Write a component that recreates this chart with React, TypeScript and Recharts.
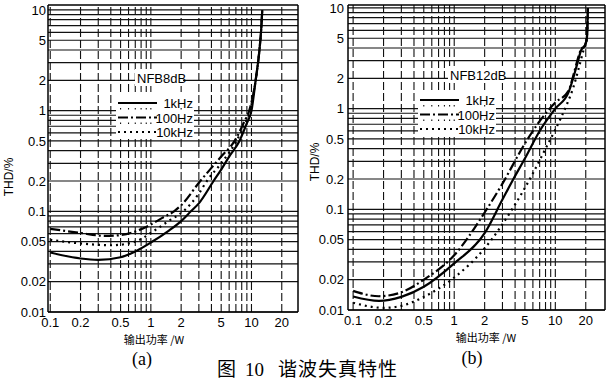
import React from 'react'
import { LineChart, Line, XAxis, YAxis, ReferenceLine } from 'recharts'

// tick labels
const powerTicks = [0.1, 0.2, 0.5, 1, 2, 5, 10, 20]
const thdTicks = [0.01, 0.02, 0.05, 0.1, 0.2, 0.5, 1, 2, 5, 10]

// (a) NFB 8dB
const a1kPower = [0.1, 0.2, 0.3, 0.5, 0.7, 1, 1.5, 2, 2.5, 3, 4.2, 5, 6, 7.6, 9, 10, 11, 12, 12.5, 12.8]
const a1kThd = [0.039, 0.034, 0.033, 0.035, 0.04, 0.049, 0.064, 0.08, 0.1, 0.12, 0.2, 0.26, 0.35, 0.5, 0.75, 1.0, 2, 4, 6.5, 10]
const a100Power = [0.1, 0.2, 0.35, 0.5, 0.7, 1, 1.3, 1.7, 2, 3.1, 4, 5, 6.8, 8.5, 9.5, 11, 12, 12.5, 12.8]
const a100Thd = [0.067, 0.061, 0.057, 0.058, 0.063, 0.074, 0.086, 0.1, 0.115, 0.2, 0.27, 0.35, 0.5, 0.78, 1.0, 2, 4, 6.5, 10]
const a10kPower = [0.1, 0.2, 0.4, 0.6, 0.8, 1, 1.5, 2.1, 3, 3.6, 5, 7.1, 8.5, 9.7, 11, 12, 12.5, 12.8]
const a10kThd = [0.052, 0.048, 0.046, 0.048, 0.053, 0.061, 0.08, 0.1, 0.15, 0.2, 0.3, 0.5, 0.72, 1.0, 2, 4, 6.5, 10]

// (b) NFB 12dB
const b1kPower = [0.1, 0.18, 0.3, 0.5, 1, 2, 3, 3.85, 5, 7, 10, 13.5, 15, 16.5, 18, 19.5, 20.5, 21]
const b1kThd = [0.0136, 0.0123, 0.0135, 0.017, 0.029, 0.058, 0.125, 0.2, 0.32, 0.6, 1.0, 1.45, 2, 2.8, 3.8, 4.2, 5, 10]
const b100Power = [0.1, 0.18, 0.3, 0.5, 1, 2, 3, 5, 7, 10, 13.5, 15, 16.5, 18, 19.5, 20.5, 21]
const b100Thd = [0.0155, 0.0137, 0.015, 0.02, 0.035, 0.093, 0.18, 0.45, 0.75, 1.15, 1.5, 2.1, 3, 3.9, 4.2, 5, 10]
const b10kPower = [0.1, 0.2, 0.3, 0.5, 1, 2, 3.85, 5.9, 8, 10, 13, 15, 17, 19, 20.5, 21]
const b10kThd = [0.0118, 0.0105, 0.011, 0.0135, 0.021, 0.041, 0.105, 0.22, 0.4, 0.62, 1.1, 1.6, 2.5, 3.8, 4.8, 10]

const zip = (xs: number[], ys: number[]) => xs.map((x, i) => ({ x, y: ys[i] }))

const gridX: number[] = []
const gridY: number[] = []
for (const d of [0.01, 0.1, 1]) for (let k = 1; k <= 9; k++) gridY.push(+(d * k).toPrecision(2))
gridY.push(10)
for (const d of [0.1, 1]) for (let k = 1; k <= 9; k++) gridX.push(+(d * k).toPrecision(2))
gridX.push(10, 20)

const sans = '"Liberation Sans", Arial, sans-serif'
const cjk = '"Noto Sans CJK SC", sans-serif'
const serif = '"Liberation Serif", "Noto Sans CJK SC", serif'

const solid = { stroke: '#000', strokeWidth: 2.2 }
const dashDot = { stroke: '#000', strokeWidth: 2.2, strokeDasharray: '10 3 2 3' }
const dotted = { stroke: '#000', strokeWidth: 2.2, strokeDasharray: '2 4' }

function Panel({ xDomain, yDomain, width, right, xAxisHeight, yTickMargin, curves }: any) {
  return (
    <LineChart width={width} height={330} margin={{ top: 5, right, bottom: 0, left: 0 }}>
      <XAxis type="number" dataKey="x" scale="log" domain={xDomain} allowDataOverflow
        ticks={powerTicks} interval={0} tickLine={false} tickSize={0} tickMargin={6}
        height={xAxisHeight} axisLine={{ stroke: '#000', strokeWidth: 1.5 }}
        tick={{ fontSize: 13, fill: '#000', fontFamily: sans }} />
      <YAxis type="number" scale="log" domain={yDomain} allowDataOverflow
        ticks={thdTicks} interval={0} tickLine={false} tickSize={0} tickMargin={yTickMargin}
        width={48} axisLine={{ stroke: '#000', strokeWidth: 1.5 }}
        tick={{ fontSize: 13, fill: '#000', fontFamily: sans }} />
      {gridY.map(v => (
        <ReferenceLine key={'h' + v} y={v} stroke="#111" strokeWidth={1.2} />
      ))}
      {gridX.map(v => (
        <ReferenceLine key={'v' + v} x={v} stroke="#111" strokeWidth={1.1} strokeDasharray="8 3" />
      ))}
      <ReferenceLine y={yDomain[1]} stroke="#000" strokeWidth={1.5} />
      <ReferenceLine x={xDomain[1]} stroke="#000" strokeWidth={1.5} />
      {curves.map((c: any) => (
        <Line key={c.name} data={c.data} dataKey="y" name={c.name} type="monotone" dot={false}
          isAnimationActive={false} {...c.style} />
      ))}
    </LineChart>
  )
}

function LegendBox({ x, y, title, titleX }: any) {
  const rows = [
    { label: '1kHz', style: solid },
    { label: '100Hz', style: dashDot },
    { label: '10kHz', style: dotted },
  ]
  return (
    <g>
      <rect x={titleX - 2} y={y - 9} width={title.length * 8} height={17} fill="#fff" />
      <text x={titleX} y={y + 5} fontSize={13} fontFamily={sans} fill="#000">{title}</text>
      {rows.map((r, i) => (
        <g key={r.label}>
          <rect x={x - 2} y={y + 17 + i * 14.5} width={78} height={13} fill="#fff" />
          <line x1={x} x2={x + 39} y1={y + 25 + i * 14.5} y2={y + 25 + i * 14.5} {...r.style} />
          <text x={x + 75} y={y + 30 + i * 14.5} fontSize={13} fontFamily={sans} fill="#000" textAnchor="end">{r.label}</text>
        </g>
      ))}
    </g>
  )
}

export default function App() {
  const curvesA = [
    { name: '1kHz', data: zip(a1kPower, a1kThd), style: solid },
    { name: '100Hz', data: zip(a100Power, a100Thd), style: dashDot },
    { name: '10kHz', data: zip(a10kPower, a10kThd), style: dotted },
  ]
  const curvesB = [
    { name: '1kHz', data: zip(b1kPower, b1kThd), style: solid },
    { name: '100Hz', data: zip(b100Power, b100Thd), style: dashDot },
    { name: '10kHz', data: zip(b10kPower, b10kThd), style: dotted },
  ]
  return (
    <div style={{ position: 'absolute', left: 0, top: 0, width: 609, height: 379, background: '#fff', overflow: 'hidden' }}>
      <div style={{ position: 'absolute', left: 0, top: 0 }}>
        <Panel xDomain={[0.095, 29]} yDomain={[0.01, 11.2]} width={300} right={2} xAxisHeight={18} yTickMargin={2} curves={curvesA} />
      </div>
      <div style={{ position: 'absolute', left: 300, top: 0 }}>
        <Panel xDomain={[0.089, 31]} yDomain={[0.01, 10.7]} width={309} right={4} xAxisHeight={20} yTickMargin={4} curves={curvesB} />
      </div>
      <svg width={609} height={379} style={{ position: 'absolute', left: 0, top: 0, pointerEvents: 'none' }}>
        <LegendBox x={118} y={78} title="NFB8dB" titleX={137} />
        <LegendBox x={420} y={75} title="NFB12dB" titleX={450} />
        <text transform="translate(13,177) rotate(-90)" textAnchor="middle" fontSize={12} fontFamily={sans} fill="#000">THD/%</text>
        <text transform="translate(319,162) rotate(-90)" textAnchor="middle" fontSize={12} fontFamily={sans} fill="#000">THD/%</text>
        <text x={154} y={344} textAnchor="middle" fontSize={11} fontFamily={cjk} fill="#000">输出功率 /W</text>
        <text x={486} y={342} textAnchor="middle" fontSize={11} fontFamily={cjk} fill="#000">输出功率 /W</text>
        <text x={142} y={365} textAnchor="middle" fontSize={18} fontFamily={serif} fill="#000">(a)</text>
        <text x={472} y={364} textAnchor="middle" fontSize={18} fontFamily={serif} fill="#000">(b)</text>
        <text x={217} y={376} fontSize={19} fontFamily={serif} fill="#000">图</text>
        <text x={245} y={376} fontSize={19} fontFamily={serif} fill="#000">10</text>
        <text x={278} y={376} fontSize={19} fontFamily={serif} fill="#000" letterSpacing={1}>谐波失真特性</text>
      </svg>
    </div>
  )
}
